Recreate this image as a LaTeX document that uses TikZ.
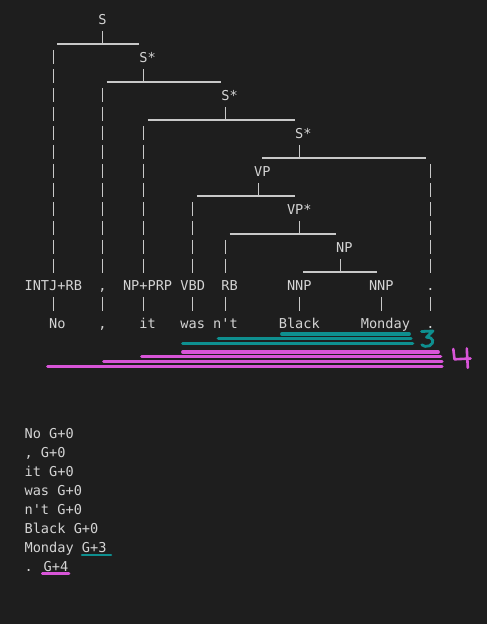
\documentclass[tikz,border=0pt]{standalone}
\usepackage{fontspec}
\newfontfamily\treefont{DejaVu Sans Mono}
\definecolor{bg}{HTML}{1E1E1E}
\definecolor{fg}{HTML}{D4D4D4}
\definecolor{ln}{HTML}{C8C8C8}
\definecolor{teal3}{HTML}{0E8F8F}
\definecolor{mag4}{HTML}{D855D8}
\tikzset{
  lbl/.style={anchor=base west, inner sep=0pt, outer sep=0pt, text=fg,
    font=\treefont\fontsize{13.62}{19}\selectfont},
  pipe/.style={draw=ln, line width=1.3pt, dash pattern=on 13.7pt off 5.3pt},
  hline/.style={draw=ln, line width=1.2pt},
  tealmark/.style={draw=teal3, line width=3.2pt, line cap=round},
  magmark/.style={draw=mag4, line width=3.2pt, line cap=round},
  handt/.style={draw=teal3, line width=2.8pt, line cap=round, line join=round},
  handm/.style={draw=mag4, line width=2.6pt, line cap=round, line join=round}
}
% column c -> x = 8.2 c ; row r -> baseline y = 24.3 + 19 r
\newcommand\treepipe[3]{\draw[pipe] (8.2*#1+4.1, 24.3+19*#2-12.5) -- (8.2*#1+4.1, 24.3+19*#3+1.2);}
\newcommand\treejoin[4]{%
  \draw[hline] (8.2*#1, 24.3+19*#3+0.6) -- (8.2*#2+8.2, 24.3+19*#3+0.6);
  \draw[hline] (8.2*#4+4.1, 24.3+19*#3-12.5) -- (8.2*#4+4.1, 24.3+19*#3+0.6);}
\begin{document}
\begin{tikzpicture}[x=1pt,y=-1pt]
\fill[bg] (0,0) rectangle (487,624);
\useasboundingbox (0,0) rectangle (487,624);

% internal labels
\node[lbl] (nS)   at (8.2*12, 24.3+19*0)  {S};
\node[lbl] (nS1)  at (8.2*17, 24.3+19*2)  {S*};
\node[lbl] (nS2)  at (8.2*27, 24.3+19*4)  {S*};
\node[lbl] (nS3)  at (8.2*36, 24.3+19*6)  {S*};
\node[lbl] (nVP)  at (8.2*31, 24.3+19*8)  {VP};
\node[lbl] (nVPs) at (8.2*35, 24.3+19*10) {VP*};
\node[lbl] (nNP)  at (8.2*41, 24.3+19*12) {NP};

% preterminal labels
\node[lbl] (lIntj) at (8.2*3,  24.3+19*14) {INTJ+RB};
\node[lbl] (lCom)  at (8.2*12, 24.3+19*14) {,};
\node[lbl] (lNPp)  at (8.2*15, 24.3+19*14) {NP+PRP};
\node[lbl] (lVBD)  at (8.2*22, 24.3+19*14) {VBD};
\node[lbl] (lRB)   at (8.2*27, 24.3+19*14) {RB};
\node[lbl] (lNNPa) at (8.2*35, 24.3+19*14) {NNP};
\node[lbl] (lNNPb) at (8.2*45, 24.3+19*14) {NNP};
\node[lbl] (lDot)  at (8.2*52, 24.3+19*14) {.};

% words
\node[lbl] (wNo)  at (8.2*6,  24.3+19*16) {No};
\node[lbl] (wCom) at (8.2*12, 24.3+19*16) {,};
\node[lbl] (wIt)  at (8.2*17, 24.3+19*16) {it};
\node[lbl] (wWas) at (8.2*22, 24.3+19*16) {was};
\node[lbl] (wNt)  at (8.2*26, 24.3+19*16) {n't};
\node[lbl] (wBl)  at (8.2*34, 24.3+19*16) {Black};
\node[lbl] (wMo)  at (8.2*44, 24.3+19*16) {Monday};
\node[lbl] (wDot) at (8.2*52, 24.3+19*16) {.};

% horizontal joins: fromcol, tocol, row, tickcol
\treejoin{7}{16}{1}{12}
\treejoin{13}{26}{3}{17}
\treejoin{18}{35}{5}{27}
\treejoin{32}{51}{7}{36}
\treejoin{24}{35}{9}{31}
\treejoin{28}{40}{11}{36}
\treejoin{37}{45}{13}{41}

% vertical pipes: col, fromrow, torow
\treepipe{6}{2}{13}
\treepipe{12}{4}{13}
\treepipe{17}{6}{13}
\treepipe{23}{10}{13}
\treepipe{27}{12}{13}
\treepipe{52}{8}{13}
\foreach \c in {6,12,17,23,27,36,46,52} {\treepipe{\c}{15}{15}}

% coloured span marks
\coordinate (t1a) at (281.7,334);   \coordinate (t1b) at (409.3,334);
\coordinate (t2a) at (218.3,338.8); \coordinate (t2b) at (411,338.8);
\coordinate (t3a) at (182.7,343.8); \coordinate (t3b) at (412.7,343.8);
\draw[tealmark] (t1a) -- (t1b);
\draw[tealmark] (t2a) -- (t2b);
\draw[tealmark] (t3a) -- (t3b);
\coordinate (m1a) at (182.7,352);   \coordinate (m1b) at (438.3,352);
\coordinate (m2a) at (141.7,356.8); \coordinate (m2b) at (440.7,356.8);
\coordinate (m3a) at (103.7,361.3); \coordinate (m3b) at (442,361.3);
\coordinate (m4a) at (47.7,366.2);  \coordinate (m4b) at (442,366.2);
\draw[magmark] (m1a) -- (m1b);
\draw[magmark] (m2a) -- (m2b);
\draw[magmark] (m3a) -- (m3b);
\draw[magmark] (m4a) -- (m4b);

% handwritten 3 and 4
\draw[handt] (421.5,331.5) -- (433,331) -- (426.5,337.3)
  .. controls (433.5,336.8) and (435,343) .. (429.5,345.8)
  .. controls (426.5,347) and (423.5,346.5) .. (421.8,344.8);
\draw[handm] (453.3,349) -- (454.5,359.3) -- (470.5,358.5);
\draw[handm] (466.8,348.5) -- (467.8,367.8);

% bottom listing
\node[lbl] (g1) at (24.6, 438.3+19*0) {No G+0};
\node[lbl] (g2) at (24.6, 438.3+19*1) {, G+0};
\node[lbl] (g3) at (24.6, 438.3+19*2) {it G+0};
\node[lbl] (g4) at (24.6, 438.3+19*3) {was G+0};
\node[lbl] (g5) at (24.6, 438.3+19*4) {n't G+0};
\node[lbl] (g6) at (24.6, 438.3+19*5) {Black G+0};
\node[lbl] (g7) at (24.6, 438.3+19*6) {Monday G+3};
\node[lbl] (g8) at (24.6, 438.3+19*7) {. G+4};
\coordinate (u3a) at (82,555); \coordinate (u3b) at (111,555);
\coordinate (u4a) at (42.3,573.5); \coordinate (u4b) at (69,573.5);
\draw[draw=teal3, line width=2.6pt, line cap=round] (u3a) -- (u3b);
\draw[draw=mag4, line width=2.6pt, line cap=round] (u4a) -- (u4b);
\end{tikzpicture}
\end{document}
